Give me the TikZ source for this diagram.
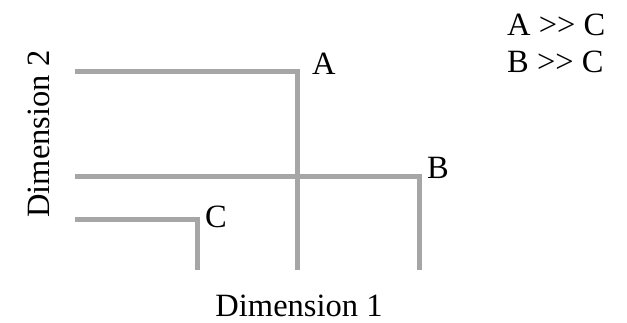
\documentclass[tikz,border=0pt]{standalone}
\usepackage{fontspec}
\setmainfont{Liberation Serif}
\definecolor{bargray}{RGB}{166,166,166}
\tikzset{
  bar/.style={draw=bargray, line width=5pt, line join=miter, line cap=rect},
  lbl/.style={font=\fontsize{32.5}{38}\selectfont, inner sep=0pt},
}

\begin{document}
\begin{tikzpicture}[x=1pt,y=-1pt]
    \useasboundingbox (0,0) rectangle (627,322);
    % corners of the three profiles
    \coordinate (A) at (297,71);
    \coordinate (B) at (419,176);
    \coordinate (C) at (197,219);
    \foreach \p in {A,B,C} {
      \coordinate (\p left) at (77,0 |- \p);
      \coordinate (\p base) at (\p |- 0,267);
      \draw[bar] (\p left) -- (\p) -- (\p base);
    }
    \node[lbl,anchor=base west] (labA) at (312,74) {A};
    \node[lbl,anchor=base west] (labB) at (427,178) {B};
    \node[lbl,anchor=base west] (labC) at (205,227) {C};
    % relations
    \node[lbl,anchor=base west] (relA) at (507,35) {A >\kern0pt> C};
    \node[lbl,anchor=base west] (relB) at (507,72) {B >\kern0pt> C};
    % axes
    \node[lbl,anchor=base,text depth=0pt] (dimx) at (299,316) {Dimension 1};
    \node[lbl,anchor=base,rotate=90] (dimy) at (49,134) {Dimension 2};
  \end{tikzpicture}
\end{document}
